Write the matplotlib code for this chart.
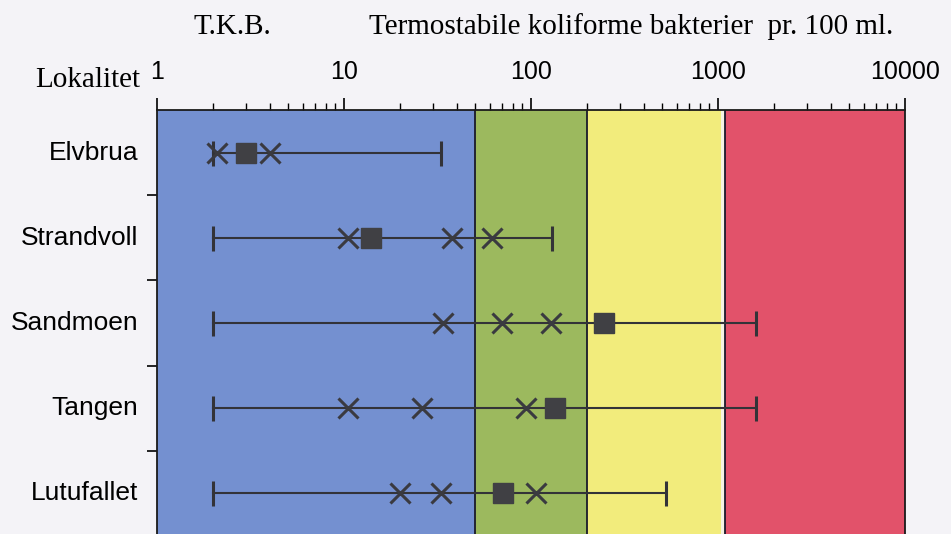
import matplotlib
matplotlib.use('Agg')
from matplotlib import pyplot as plt
from matplotlib.ticker import FixedLocator, NullFormatter

# Stations, top to bottom
stations = ['Elvbrua', 'Strandvoll', 'Sandmoen', 'Tangen', 'Lutufallet']

# Range of measured values (min / max) per station, bacteria per 100 ml
minimum = [2, 2, 2, 2, 2]
maximum = [33, 130, 1600, 1600, 530]

# Median (filled square) per station
median = [3, 14, 245, 135, 71]

# Single measurements drawn as crosses
crosses = [
    [2.1, 4],
    [10.5, 38, 62],
    [34, 70, 128],
    [10.5, 26, 94],
    [20, 33, 106],
]

# Quality classes (class limits on the log axis)
class_edges = [1, 50, 200, 1040, 1090, 10000]
class_colors = ['#7490d0', '#9cb95e', '#f2ec7c', '#f6f3e4', '#e2526a']

tick_values = [1, 10, 100, 1000, 10000]
tick_labels = ['1', '10', '100', '1000', '10000']

fig = plt.figure(figsize=(9.51, 5.34), dpi=100, facecolor='#f4f3f7')
ax = fig.add_axes([157 / 951, (534 - 536) / 534, 748 / 951, 426 / 534])

ax.set_xscale('log')
ax.set_xlim(1, 10000)
ax.set_ylim(len(stations) - 0.5, -0.5)

for i in range(len(class_colors)):
    ax.axvspan(class_edges[i], class_edges[i + 1], color=class_colors[i], lw=0, zorder=0)
for edge in [50, 200, 1090]:
    ax.axvline(edge, color='#1a1a2a', lw=1.3, zorder=1)

line_col = '#333338'
for i, name in enumerate(stations):
    ax.plot([minimum[i], maximum[i]], [i, i], color=line_col, lw=1.5, zorder=2)
    ax.plot([minimum[i], maximum[i]], [i, i], ls='none', marker='|', ms=18, mew=2.2,
            color=line_col, zorder=3)
    ax.plot(crosses[i], [i] * len(crosses[i]), ls='none', marker='x', ms=15, mew=2.2,
            color='#3a3a40', zorder=4)
    ax.plot(median[i], i, ls='none', marker='s', ms=15, color='#404044', zorder=5)

# top axis with log ticks
ax.xaxis.tick_top()
ax.xaxis.set_major_locator(FixedLocator(tick_values))
ax.set_xticklabels(tick_labels, fontsize=18, family='Liberation Sans')
ax.tick_params(axis='x', which='major', length=9, width=1.2, pad=10, direction='out')
ax.tick_params(axis='x', which='minor', length=5, width=1.0, direction='out')
ax.xaxis.set_minor_formatter(NullFormatter())

# row separators on the left axis
ax.set_yticks([i + 0.5 for i in range(len(stations) - 1)])
ax.set_yticklabels([])
ax.tick_params(axis='y', length=7, width=1.2, direction='out')
for i, name in enumerate(stations):
    ax.text(-0.025, i, name, transform=ax.get_yaxis_transform(), ha='right', va='center',
            fontsize=19, family='Liberation Sans')

for side in ['top', 'left', 'right', 'bottom']:
    ax.spines[side].set_linewidth(1.3)
    ax.spines[side].set_color('#1a1a1a')

fig.text(232 / 951, 1 - 27 / 534, 'T.K.B.', ha='center', va='center', fontsize=21,
         family='Liberation Serif')
fig.text(631 / 951, 1 - 27 / 534, 'Termostabile koliforme bakterier  pr. 100 ml.', ha='center',
         va='center', fontsize=21, family='Liberation Serif')
fig.text(88 / 951, 1 - 80 / 534, 'Lokalitet', ha='center', va='center', fontsize=21,
         family='Liberation Serif')

fig.savefig('out.png', dpi=100, facecolor=fig.get_facecolor())
